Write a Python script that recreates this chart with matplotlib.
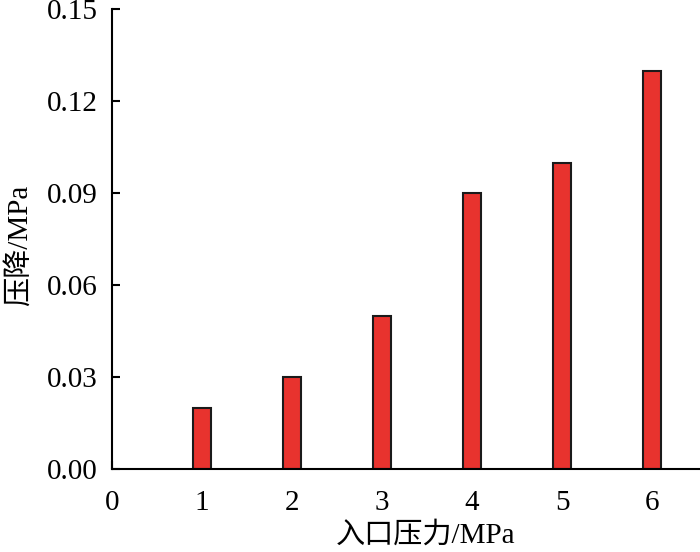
import matplotlib
matplotlib.use("Agg")
import matplotlib.pyplot as plt

x_vals = [1, 2, 3, 4, 5, 6]
drops = [0.02, 0.03, 0.05, 0.09, 0.10, 0.13]
xticks = [0, 1, 2, 3, 4, 5, 6]
yticks = [0.00, 0.03, 0.06, 0.09, 0.12, 0.15]
ytick_labels = ["0.00", "0.03", "0.06", "0.09", "0.12", "0.15"]

plt.rcParams['font.family'] = ['Liberation Serif', 'Noto Sans CJK SC']
fig = plt.figure(figsize=(7.0, 5.52), dpi=100)
ax = fig.add_axes([0.16, 0.1504, 0.84, 0.8326])
ax.bar(x_vals, drops, width=0.2, color='#E8332E', edgecolor='#1a1a1a', linewidth=1.5, zorder=2)
ax.set_xlim(0, 6.53)
ax.set_ylim(0, 0.15)
ax.set_xticks(xticks)
ax.set_yticks(yticks)
ax.set_yticklabels(ytick_labels)
for s in ['top', 'right']:
    ax.spines[s].set_visible(False)
for s in ['left', 'bottom']:
    ax.spines[s].set_linewidth(1.5)
    ax.spines[s].set_zorder(3)
ax.tick_params(direction='in', length=6, width=1.5, labelsize=21)
ax.tick_params(axis='y', pad=10)
ax.tick_params(axis='x', pad=15)
ax.set_xlabel('入口压力/MPa', fontsize=21, va='center')
ax.set_ylabel('压降/MPa', fontsize=21, va='center')
ax.xaxis.set_label_coords(0.534, -0.145)
ax.yaxis.set_label_coords(-0.158, 0.487)
fig.savefig('out.png', dpi=100)
